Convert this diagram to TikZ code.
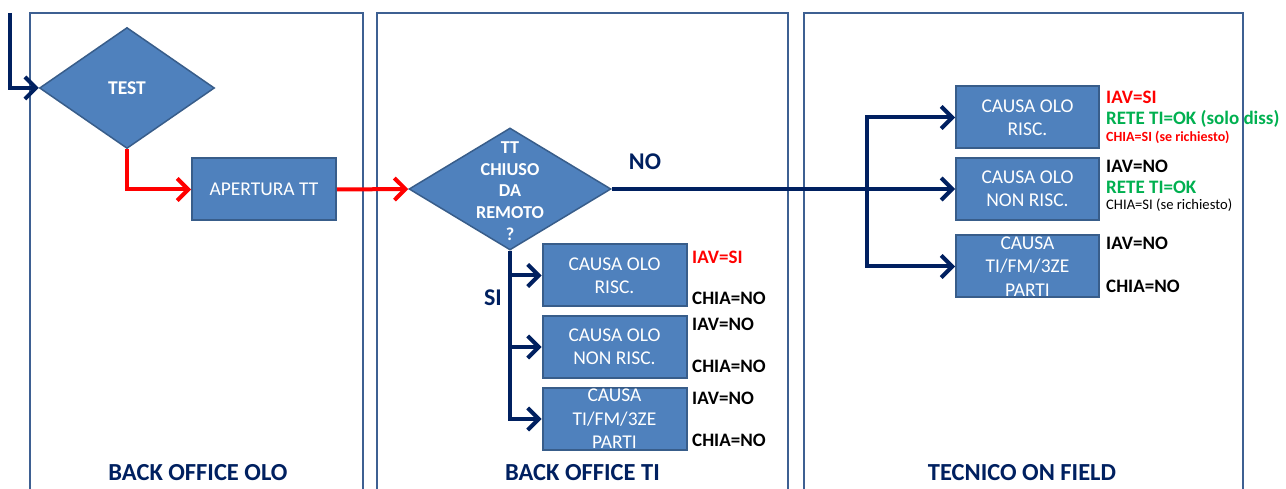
\documentclass[tikz,border=0pt]{standalone}
\usepackage{fontspec}
\setmainfont{Carlito}
\usetikzlibrary{arrows.meta,shapes.geometric}
\definecolor{navy}{RGB}{0,32,96}
\definecolor{lane}{RGB}{62,96,146}
\definecolor{cell}{RGB}{79,129,189}
\definecolor{cellrim}{RGB}{56,93,138}
\definecolor{alarm}{RGB}{255,0,0}
\definecolor{okgreen}{RGB}{0,176,80}
\tikzset{
  >={Straight Barb[length=11pt,width=22pt]},
  box/.style={draw=cellrim,fill=cell,line width=2pt,minimum width=144pt,minimum height=62pt,
    inner sep=0pt,text=white,align=center,font=\fontsize{19.5}{23}\selectfont},
  intext/.style={text=white,align=center,inner sep=0pt,font=\fontsize{19.5}{23.5}\selectfont},
  dec/.style={diamond,draw=cellrim,fill=cell,line width=1.5pt,inner sep=0pt},
  dectext/.style={text=white,align=center,inner sep=0pt,font=\bfseries\fontsize{18.2}{21.7}\selectfont},
  flow/.style={->,line width=4pt,draw=#1},
  flow/.default=navy,
  note/.style={anchor=west,inner sep=0pt,text=#1,font=\bfseries\fontsize{19}{22}\selectfont},
  note/.default=black,
  small note/.style={anchor=west,inner sep=0pt,text=#1,font=\fontsize{14.6}{17}\selectfont},
  small note/.default=black,
  lanebox/.style={draw=lane,line width=2.5pt},
  lanetitle/.style={text=navy,font=\bfseries\fontsize{24.5}{28}\selectfont},
  branch/.style={text=navy,font=\bfseries\fontsize{24}{28}\selectfont},
}
\begin{document}
\begin{tikzpicture}[x=1pt,y=-1pt]
  \useasboundingbox (0,0) rectangle (1286,489);
  % swimlanes
  \draw[lanebox] (30,500) |- (363,13) -- (363,500);
  \draw[lanebox] (377,500) |- (788,13) -- (788,500);
  \draw[lanebox] (804,500) |- (1243,13) -- (1243,500);
  \node[lanetitle] (olo) at (198,473) {BACK OFFICE OLO};
  \node[lanetitle] (boti) at (582.5,473) {BACK OFFICE TI};
  \node[lanetitle] (field) at (1022,473) {TECNICO ON FIELD};

  % back office olo
  \coordinate (start) at (10,13);
  \node[dec,minimum width=175pt,minimum height=121pt,font=\bfseries\fontsize{19.5}{23}\selectfont,text=white] (test) at (127,88) {TEST};
  \node[box] (apert) at (264,189.5) {APERTURA TT};
  \draw[flow] (start) |- (test.west);
  \draw[flow=alarm] (test.south) |- (apert.west);

  % back office ti
  \node[dec,minimum width=202pt,minimum height=122pt] (tt) at (510,189) {};
  \node[dectext] (ttq) at ([yshift=-2pt]tt.center) {TT\\CHIUSO\\DA\\REMOTO\\?};
  \draw[flow=alarm] (apert.east) -- (tt.west);
  \node[box] (siRisc) at (614.5,275.5) {CAUSA OLO\\RISC.};
  \node[box] (siNon) at (614.5,347) {CAUSA OLO\\NON RISC.};
  \node[box] (siTi) at (614.5,419) {};
  \node[intext] (siTiT) at (siTi) {CAUSA\\TI/FM/3ZE\\PARTI};
  \foreach \b in {siRisc,siNon,siTi} \draw[flow] (tt.south) |- (\b.west);
  \node[branch] (si) at (493,298) {SI};
  \node[note=alarm] (n1) at (692,257) {IAV=SI};
  \node[note] (n2) at (692,298) {CHIA=NO};
  \node[note] (n3) at (692,324) {IAV=NO};
  \node[note] (n4) at (692,366) {CHIA=NO};
  \node[note] (n5) at (692,398) {IAV=NO};
  \node[note] (n6) at (692,440) {CHIA=NO};

  % tecnico on field
  \node[box,minimum width=143pt] (noRisc) at (1027.5,117.5) {CAUSA OLO\\RISC.};
  \node[box,minimum width=143pt] (noNon) at (1027.5,189) {CAUSA OLO\\NON RISC.};
  \node[box,minimum width=143pt] (noTi) at (1027.5,266.5) {};
  \node[intext] (noTiT) at (noTi) {CAUSA\\TI/FM/3ZE\\PARTI};
  \coordinate (fork) at (867,189);
  \draw[flow] (tt.east) -- (noNon.west);
  \draw[flow] (fork) |- (noRisc.west);
  \draw[flow] (fork) |- (noTi.west);
  \node[branch] (no) at (645,162) {NO};
  \node[note=alarm] (m1) at (1106,97) {IAV=SI};
  \node[note=okgreen] (m2) at (1106,119) {RETE TI=OK (solo diss)};
  \node[small note=alarm,font=\bfseries\fontsize{14}{17}\selectfont] (m3) at (1106,137) {CHIA=SI (se richiesto)};
  \node[note] (m4) at (1106,166) {IAV=NO};
  \node[note=okgreen] (m5) at (1106,187) {RETE TI=OK};
  \node[small note] (m6) at (1106,205) {CHIA=SI (se richiesto)};
  \node[note] (m7) at (1106,243) {IAV=NO};
  \node[note] (m8) at (1106,286) {CHIA=NO};
\end{tikzpicture}
\end{document}
